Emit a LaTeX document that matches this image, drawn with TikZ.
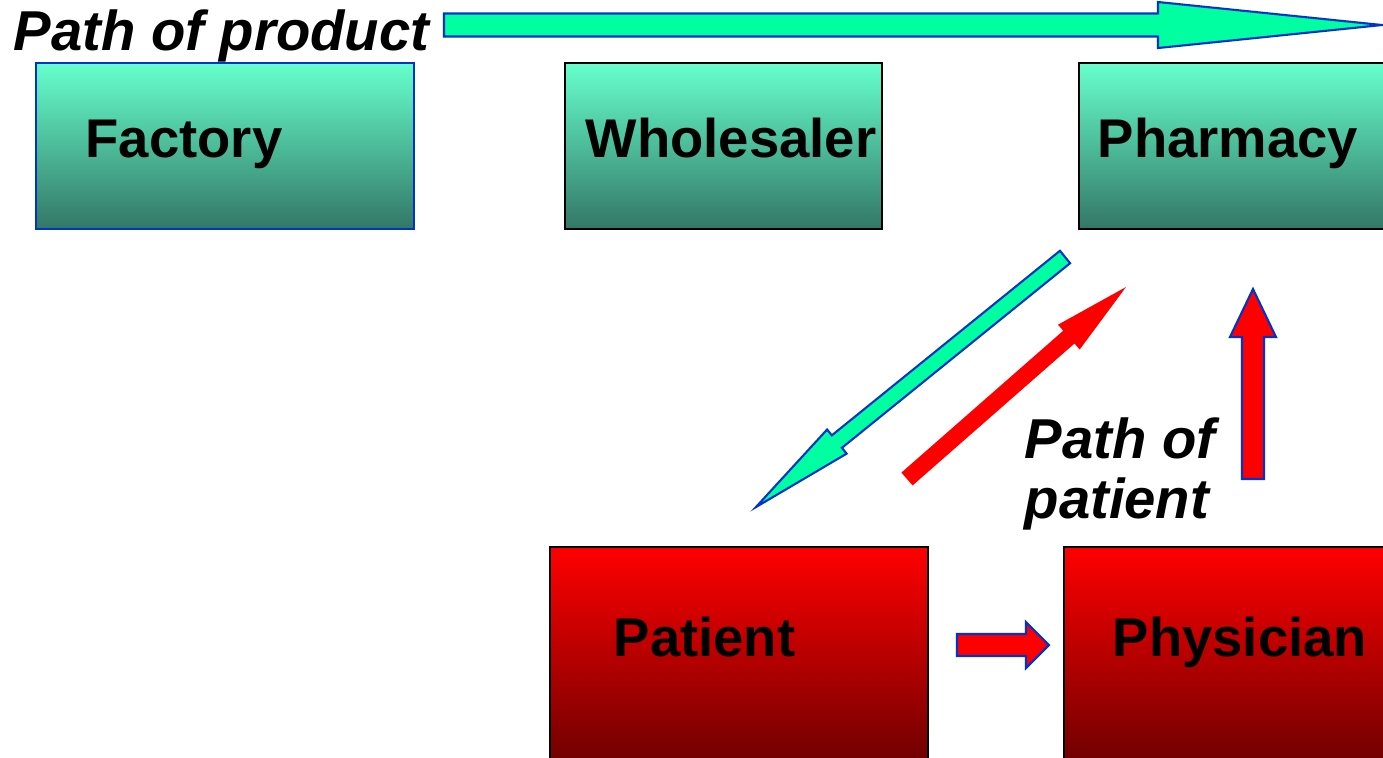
\documentclass[tikz,border=0pt]{standalone}
\usepackage{fontspec}
\setmainfont{Liberation Sans}
\usetikzlibrary{calc,positioning}

\definecolor{prodgreen}{RGB}{0,255,160}
\definecolor{edgeblue}{RGB}{0,51,204}
\definecolor{boxtop}{RGB}{102,255,204}
\definecolor{boxbot}{RGB}{51,119,102}
\definecolor{redbot}{RGB}{100,0,0}

\tikzset{
  gbox/.style={draw=black, line width=0.6pt, top color=boxtop, bottom color=boxbot, minimum height=16.6mm},
  rbox/.style={draw=black, line width=0.6pt, top color=red, bottom color=redbot, minimum height=23.3mm},
  lbl/.style={font=\fontsize{15.5}{18}\selectfont\bfseries, anchor=base west, inner sep=0pt},
  pathlbl/.style={font=\fontsize{16}{17}\selectfont\bfseries\itshape, anchor=base west, inner sep=0pt, align=left},
  garrow/.style={fill=prodgreen, draw=edgeblue, line width=0.6pt, line join=miter},
  rarrow/.style={fill=red, draw=edgeblue, line width=0.6pt, line join=miter},
}

% fat arrow: name, style, tail, tip, half shaft, half head, head length
\newcommand{\blockarrow}[7]{%
  \coordinate (#1h) at ($(#4)!#7!(#3)$);
  \path[#2] ($(#3)!#5!90:(#4)$) -- ($(#1h)!#5!-90:(#3)$) -- ($(#1h)!#6!-90:(#3)$) -- (#4)
    -- ($(#1h)!#6!90:(#3)$) -- ($(#1h)!#5!90:(#3)$) -- ($(#3)!#5!-90:(#4)$) -- cycle;
}

\begin{document}
\begin{tikzpicture}[x=0.1mm, y=-0.1mm]
  \clip (0,0) rectangle (1383,757);
  \fill[white] (0,0) rectangle (1383,757);

  % supply chain
  \node[gbox, draw=edgeblue, minimum width=37.8mm] (factory) at (225,146) {};
  \node[gbox, minimum width=31.7mm] (wholesaler) at (723.5,146) {};
  \node[gbox, minimum width=32.1mm] (pharmacy) at (1239.5,146) {};
  \node[lbl] (factorytxt) at (85,157) {Factory};
  \node[lbl] (wholesalertxt) at (585,157) {Wholesaler};
  \node[lbl] (pharmacytxt) at (1097,157) {Pharmacy};

  % patient side
  \node[rbox, minimum width=37.8mm] (patient) at (739,663.5) {};
  \node[rbox, minimum width=33.6mm] (physician) at (1232,663.5) {};
  \node[lbl] (patienttxt) at (613,656) {Patient};
  \node[lbl] (physiciantxt) at (1112,656) {Physician};

  \node[pathlbl] (prodlbl) at (13,50) {Path of product};
  \node[pathlbl] (patlbl) at (1024,518) {Path of\\patient};

  % arrow ends
  \coordinate (prodA) at (444,25);
  \coordinate (prodB) at (1382,25);
  \coordinate (fillA) at (1065,257);
  \coordinate (fillB) at (756,507);
  \coordinate (rxA) at (907,479);
  \coordinate (rxB) at (1126,287);
  \coordinate (upA) at (1253,479);
  \coordinate (upB) at (1253,289);
  \coordinate (visitA) at (957,645);
  \coordinate (visitB) at (1049,645);

  \blockarrow{prod}{garrow}{prodA}{prodB}{1.15mm}{2.3mm}{22.4mm}
  \blockarrow{fill}{garrow}{fillA}{fillB}{0.8mm}{1.55mm}{10.4mm}
  \blockarrow{rx}{fill=red}{rxA}{rxB}{0.85mm}{1.65mm}{7.6mm}
  \blockarrow{up}{rarrow}{upA}{upB}{1.1mm}{2.3mm}{4.8mm}
  \blockarrow{visit}{rarrow}{visitA}{visitB}{1.1mm}{2.3mm}{2.3mm}
\end{tikzpicture}
\end{document}
